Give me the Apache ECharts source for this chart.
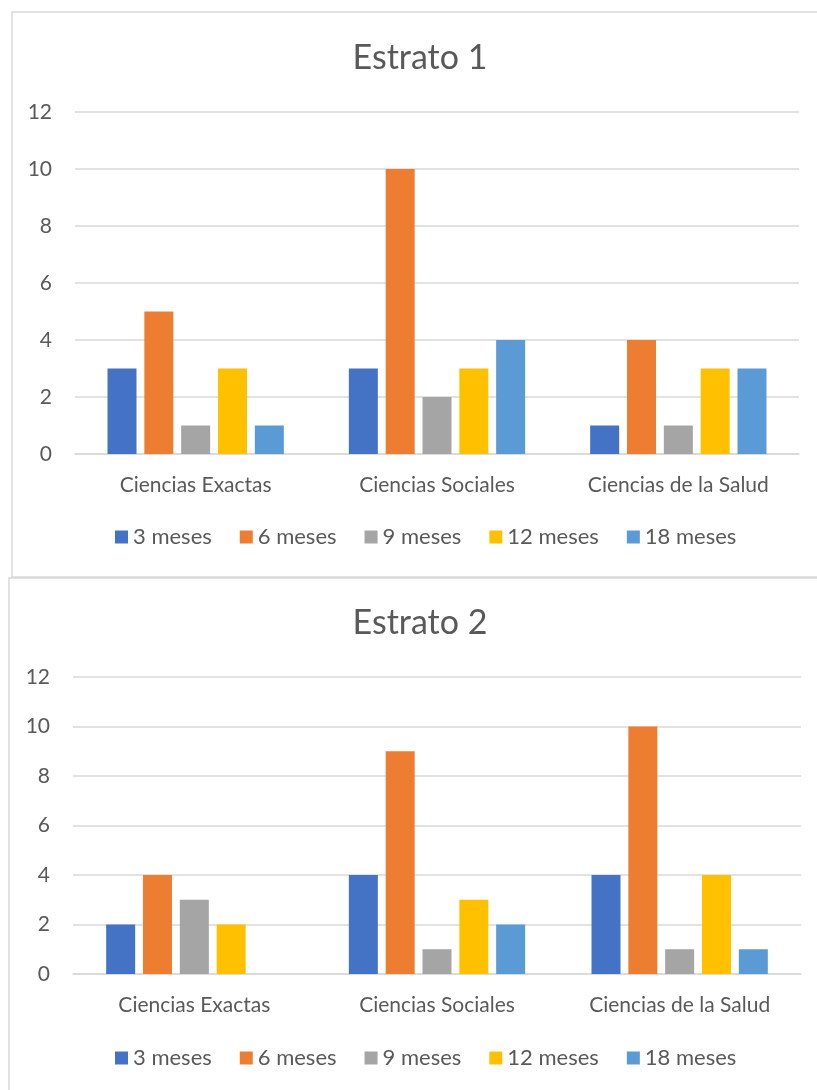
<!DOCTYPE html>
<html>
<head>
<meta charset="utf-8">
<script src="https://cdn.jsdelivr.net/npm/echarts@6/dist/echarts.min.js"></script>
<style>
    html, body { margin: 0; padding: 0; background: #fff; overflow: hidden; }
    #chart { width: 840px; height: 1090px; }
</style>
</head>
<body>
<div id="chart"></div>
<script>
var categories = ['Ciencias Exactas', 'Ciencias Sociales', 'Ciencias de la Salud'];
var seriesNames = ['3 meses', '6 meses', '9 meses', '12 meses', '18 meses'];
var colors = ['#4472C4', '#ED7D31', '#A5A5A5', '#FFC000', '#5B9BD5'];
var titles = ['Estrato 1', 'Estrato 2'];
var yTicks = [0, 2, 4, 6, 8, 10, 12];

// valores por serie (uno por categoria)
var estrato1 = [
    [3, 3, 1],   // 3 meses
    [5, 10, 4],  // 6 meses
    [1, 2, 1],   // 9 meses
    [3, 3, 3],   // 12 meses
    [1, 4, 3]    // 18 meses
];
var estrato2 = [
    [2, 4, 4],
    [4, 9, 10],
    [3, 1, 1],
    [2, 3, 4],
    [0, 2, 1]
];

var labelColor = '#595959';
var lineColor = '#d9d9d9';
var fontFam = 'Lato, "Open Sans", sans-serif';

function makeAxes(idx) {
    var x = {
        type: 'category',
        gridIndex: idx,
        data: categories,
        axisTick: { show: false },
        axisLine: { lineStyle: { color: lineColor, width: 1.5 } },
        axisLabel: { color: labelColor, fontSize: 21, fontFamily: fontFam, margin: 21 }
    };
    var y = {
        type: 'value',
        gridIndex: idx,
        min: yTicks[0],
        max: yTicks[yTicks.length - 1],
        interval: 2,
        axisLine: { show: false },
        axisTick: { show: false },
        splitLine: { lineStyle: { color: lineColor, width: 1.5 } },
        axisLabel: { color: labelColor, fontSize: 21, fontFamily: fontFam, margin: 23 }
    };
    return { x: x, y: y };
}

function makeSeries(data, idx) {
    var out = [];
    for (var i = 0; i < seriesNames.length; i++) {
        out.push({
            name: seriesNames[i],
            type: 'bar',
            xAxisIndex: idx,
            yAxisIndex: idx,
            data: data[i],
            barWidth: 29,
            barGap: '27%',
            itemStyle: { color: colors[i] },
            emphasis: { disabled: true }
        });
    }
    return out;
}

function makeLegend(top) {
    return {
        top: top,
        left: 110,
        icon: 'rect',
        itemWidth: 13,
        itemHeight: 13,
        itemGap: 28,
        data: seriesNames,
        textStyle: { color: labelColor, fontSize: 22, fontFamily: fontFam }
    };
}

var a1 = makeAxes(0);
var a2 = makeAxes(1);

var chart = echarts.init(document.getElementById('chart'));
chart.setOption({
    color: colors,
    animation: false,
    title: [{
        text: titles[0],
        left: 'center',
        top: 36,
        textStyle: { color: labelColor, fontSize: 34, fontWeight: 'normal', fontFamily: fontFam }
    }, {
        text: titles[1],
        left: 'center',
        top: 601,
        textStyle: { color: labelColor, fontSize: 34, fontWeight: 'normal', fontFamily: fontFam }
    }],
    legend: [makeLegend(521), makeLegend(1042)],
    grid: [
        { left: 75, right: 41, top: 112, height: 342 },
        { left: 73, right: 39, top: 677, height: 297 }
    ],
    xAxis: [a1.x, a2.x],
    yAxis: [a1.y, a2.y],
    series: makeSeries(estrato1, 0).concat(makeSeries(estrato2, 1)),
    graphic: [{
        type: 'rect',
        shape: { x: 12, y: 12, width: 840, height: 565 },
        style: { fill: null, stroke: lineColor, lineWidth: 1.5 },
        silent: true
    }, {
        type: 'rect',
        shape: { x: 9, y: 578, width: 840, height: 600 },
        style: { fill: null, stroke: lineColor, lineWidth: 1.5 },
        silent: true
    }]
});
</script>
</body>
</html>
